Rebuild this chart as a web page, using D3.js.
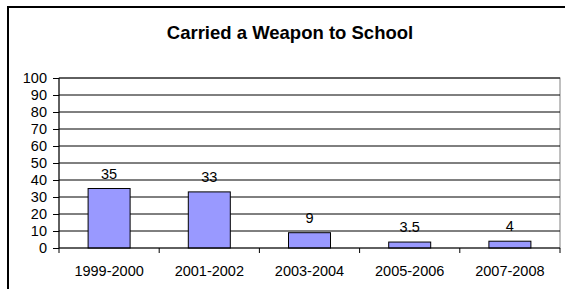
<!DOCTYPE html>
<html>
<head>
<meta charset="utf-8">
<script src="https://cdn.jsdelivr.net/npm/d3@7"></script>
<style>
  html, body { margin: 0; padding: 0; background: #fff; }
  svg { display: block; font-family: "Liberation Sans", Arial, sans-serif; }
</style>
</head>
<body>
<svg id="chart" width="565" height="289"></svg>
<script>
const categories = ["1999-2000", "2001-2002", "2003-2004", "2005-2006", "2007-2008"];
const values = [35, 33, 9, 3.5, 4];
const valueLabels = ["35", "33", "9", "3.5", "4"];
const yTicks = [0, 10, 20, 30, 40, 50, 60, 70, 80, 90, 100];
const title = "Carried a Weapon to School";

const svg = d3.select("#chart");
const plot = { left: 59, right: 560, top: 78, bottom: 248 };
const fs = 14.5;

// outer frame
svg.append("rect")
  .attr("x", 8).attr("y", 7)
  .attr("width", 600).attr("height", 320)
  .attr("fill", "#fff").attr("stroke", "#000").attr("stroke-width", 2);

svg.append("text")
  .attr("x", 290).attr("y", 38.5)
  .attr("text-anchor", "middle")
  .attr("font-weight", "bold")
  .attr("font-size", 18.5)
  .attr("fill", "#000")
  .text(title);

const xb = d3.scaleBand().domain(categories).range([plot.left, plot.right]);
const y = d3.scaleLinear().domain([0, 100]).range([plot.bottom, plot.top]);

// plot area border
svg.append("rect")
  .attr("x", plot.left).attr("y", plot.top)
  .attr("width", plot.right - plot.left).attr("height", plot.bottom - plot.top)
  .attr("fill", "#fff").attr("stroke", "#808080").attr("stroke-width", 1);

// gridlines
svg.append("g").selectAll("line").data(yTicks.filter(d => d > 0)).join("line")
  .attr("x1", plot.left).attr("x2", plot.right)
  .attr("y1", d => y(d)).attr("y2", d => y(d))
  .attr("stroke", "#000").attr("stroke-width", 1);

// bars
svg.append("g").selectAll("rect").data(values).join("rect")
  .attr("x", (d, i) => xb(categories[i]) + xb.bandwidth() / 2 - 21)
  .attr("width", 42)
  .attr("y", d => y(d))
  .attr("height", d => y(0) - y(d))
  .attr("fill", "#9999FF").attr("stroke", "#000").attr("stroke-width", 1);

// value labels
svg.append("g").selectAll("text").data(values).join("text")
  .attr("x", (d, i) => xb(categories[i]) + xb.bandwidth() / 2)
  .attr("y", d => y(d) - 10)
  .attr("text-anchor", "middle")
  .attr("font-size", fs)
  .attr("fill", "#000")
  .text((d, i) => valueLabels[i]);

// y axis
const yAxis = d3.axisLeft(y).tickValues(yTicks).tickSize(6).tickPadding(6);
const gy = svg.append("g").attr("transform", `translate(${plot.left},0)`).call(yAxis);
gy.select(".domain").attr("stroke", "#000").attr("d", `M0,${plot.top}V${plot.bottom}`);
gy.selectAll(".tick line").attr("stroke", "#000");
gy.selectAll(".tick text").attr("font-size", fs).attr("fill", "#000")
  .attr("font-family", "Liberation Sans, Arial, sans-serif");

// x axis
const gx = svg.append("g").attr("transform", `translate(0,${plot.bottom})`);
gx.append("line").attr("x1", plot.left).attr("x2", plot.right).attr("y1", 0).attr("y2", 0).attr("stroke", "#000");
const bounds = [plot.left].concat(categories.map(c => xb(c) + xb.bandwidth()));
gx.selectAll("line.tk").data(bounds).join("line").attr("class", "tk")
  .attr("x1", d => d).attr("x2", d => d).attr("y1", 0).attr("y2", 5).attr("stroke", "#000");
gx.selectAll("text").data(categories).join("text")
  .attr("x", d => xb(d) + xb.bandwidth() / 2)
  .attr("y", 27.5)
  .attr("text-anchor", "middle")
  .attr("font-size", fs)
  .attr("fill", "#000")
  .text(d => d);
</script>
</body>
</html>
